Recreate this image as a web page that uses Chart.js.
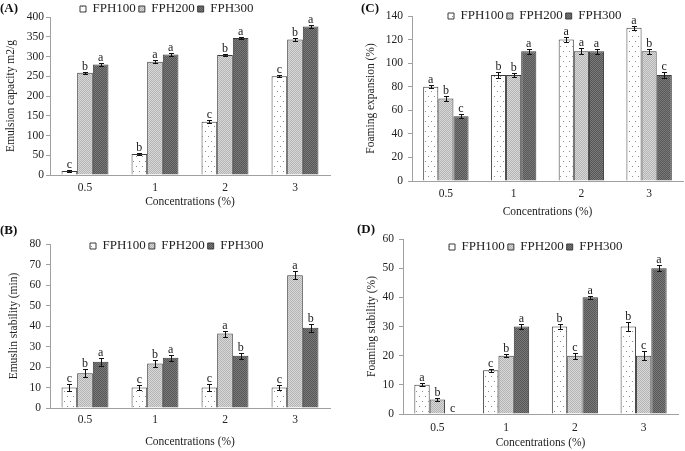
<!DOCTYPE html>
<html>
<head>
<meta charset="utf-8">
<script src="https://cdn.jsdelivr.net/npm/chart.js@4.4.1/dist/chart.umd.min.js"></script>
<style>
  body { margin: 0; background: #fff; width: 685px; height: 451px; position: relative; overflow: hidden; }
  canvas { position: absolute; }
  .tag { position: absolute; font: bold 13px "Liberation Serif", serif; line-height: 15px; color: #111; }
</style>
</head>
<body>
<canvas id="chartA" width="340" height="225" style="left:0;top:0"></canvas>
<canvas id="chartC" width="345" height="225" style="left:340px;top:0"></canvas>
<canvas id="chartB" width="340" height="226" style="left:0;top:225px"></canvas>
<canvas id="chartD" width="345" height="226" style="left:340px;top:225px"></canvas>
<div class="tag" style="left:0;top:0">(A)</div>
<div class="tag" style="left:361px;top:0">(C)</div>
<div class="tag" style="left:0;top:222px">(B)</div>
<div class="tag" style="left:357px;top:221px">(D)</div>
<script>
/*** data ***/
var concentrations = ['0.5', '1', '2', '3'];
var hydrolysates = ['FPH100', 'FPH200', 'FPH300'];

// (A) emulsion capacity, rows = FPH100 / FPH200 / FPH300
var capacityMean    = [[10, 53, 135, 250], [259, 287, 304, 343], [280, 305, 347, 376]];
var capacityErr     = [[3, 3, 3, 3], [3, 3, 3, 3], [3, 3, 3, 3]];
var capacityLetters = [['c', 'b', 'c', 'c'], ['b', 'a', 'b', 'b'], ['a', 'a', 'a', 'a']];
var capacityAxis    = [0, 400, 50];

// (B) emulsion stability
var stabilityMean    = [[10, 10, 10, 10], [17, 21.7, 36.3, 64.8], [22.6, 24.5, 25.5, 39.2]];
var stabilityErr     = [[1.5, 1, 1.5, 1], [2, 1.5, 1.5, 2], [2, 1.5, 1.5, 2]];
var stabilityLetters = [['c', 'c', 'c', 'c'], ['b', 'b', 'a', 'a'], ['a', 'a', 'b', 'b']];
var stabilityAxis    = [0, 80, 10];

// (C) foaming expansion
var expansionMean    = [[80, 90, 120, 130], [70, 90, 110, 110], [55, 110, 110, 90]];
var expansionErr     = [[1.5, 2.5, 2, 1.5], [2, 1.5, 2.5, 2], [1.5, 2, 2, 2.5]];
var expansionLetters = [['a', 'b', 'a', 'a'], ['b', 'b', 'a', 'b'], ['c', 'a', 'a', 'c']];
var expansionAxis    = [0, 140, 20];

// (D) foaming stability
var foamMean    = [[10, 15, 30, 30], [5, 20, 20, 20], [0, 30, 40, 50]];
var foamErr     = [[0.5, 0.5, 1, 1.5], [0.5, 0.5, 1, 1.5], [0, 1, 0.5, 1]];
var foamLetters = [['a', 'c', 'b', 'b'], ['b', 'b', 'c', 'c'], ['c', 'a', 'a', 'a']];
var foamAxis    = [0, 60, 10];

var serif = '"Liberation Serif", "Times New Roman", serif';

/*** fills ***/
function makeFill(kind) {
    var c = document.createElement('canvas');
    var g = c.getContext('2d');
    if (kind == 'dots') {
        c.width = 6; c.height = 10;
        g.fillStyle = '#ffffff'; g.fillRect(0, 0, 6, 10);
        g.fillStyle = '#8c8c8c';
        g.fillRect(1, 1, 1, 1); g.fillRect(4, 6, 1, 1);
    } else {
        var cols = kind == 'light' ? ['#b4b4b4', '#d8d8d8'] : ['#575757', '#7a7a7a'];
        c.width = 2; c.height = 2;
        g.fillStyle = cols[0]; g.fillRect(0, 0, 2, 2);
        g.fillStyle = cols[1]; g.fillRect(0, 0, 1, 1); g.fillRect(1, 1, 1, 1);
    }
    return g.createPattern(c, 'repeat');
}
var fills = [makeFill('dots'), makeFill('light'), makeFill('dark')];

/*** plugins ***/
var errorBarPlugin = {
    id: 'errorBars',
    afterDatasetsDraw: function (chart) {
        var ctx = chart.ctx;
        var yScale = chart.scales.y;
        ctx.save();
        ctx.strokeStyle = '#111';
        ctx.lineWidth = 1;
        ctx.fillStyle = '#222';
        ctx.font = '12px ' + serif;
        ctx.textAlign = 'center';
        ctx.textBaseline = 'alphabetic';
        chart.data.datasets.forEach(function (ds, di) {
            var meta = chart.getDatasetMeta(di);
            meta.data.forEach(function (bar, i) {
                var v = ds.data[i], e = ds.errors[i];
                var x = Math.round(bar.x) + 0.5;
                var yTop = Math.round(yScale.getPixelForValue(v + e)) + 0.5;
                var yBot = Math.round(yScale.getPixelForValue(v - e)) + 0.5;
                if (e > 0) {
                    ctx.beginPath();
                    ctx.moveTo(x, yTop); ctx.lineTo(x, yBot);
                    ctx.moveTo(x - 2.5, yTop); ctx.lineTo(x + 2.5, yTop);
                    ctx.moveTo(x - 2.5, yBot); ctx.lineTo(x + 2.5, yBot);
                    ctx.stroke();
                }
                ctx.fillText(ds.letters[i], bar.x, yTop - 3);
            });
        });
        ctx.restore();
    }
};

// moves the legend so its first box sits at (x, y); the legend only takes 1px of layout
var legendShiftPlugin = {
    id: 'legendShift',
    beforeDraw: function (chart, args, opts) {
        var lg = chart.legend;
        if (!lg || !lg.legendHitBoxes || !lg.legendHitBoxes.length) return;
        var hb = lg.legendHitBoxes[0];
        var dx = opts.x - hb.left;
        var dy = opts.y - (hb.top + hb.height / 2);
        lg.left += dx; lg.right += dx;
        lg.top += dy;
        lg.bottom = lg.top + 40;
        lg.height = 40;
        lg.legendHitBoxes.forEach(function (b) { b.left += dx; b.top += dy; });
    }
};

/*** charts ***/
function buildChart(id, mean, err, letters, axis, yTitle, box) {
    var canvas = document.getElementById(id);
    var W = canvas.width, H = canvas.height;
    var datasets = hydrolysates.map(function (name, k) {
        return {
            label: name,
            data: mean[k],
            errors: err[k],
            letters: letters[k],
            backgroundColor: fills[k],
            borderColor: '#3a3a3a',
            borderWidth: 1,
            categoryPercentage: 0.67,
            barPercentage: 1
        };
    });
    return new Chart(canvas, {
        type: 'bar',
        data: { labels: concentrations, datasets: datasets },
        options: {
            responsive: false,
            animation: false,
            layout: { padding: { left: 0, top: box.top - 1, right: W - box.right, bottom: 0 } },
            plugins: {
                legend: {
                    position: 'top',
                    maxHeight: 1,
                    labels: {
                        boxWidth: 6, boxHeight: 6, padding: 3,
                        color: '#222', font: { family: serif, size: 13 }
                    }
                },
                tooltip: { enabled: false },
                legendShift: { x: box.legendX, y: box.legendY }
            },
            scales: {
                x: {
                    grid: { display: false, drawTicks: false },
                    border: { color: '#a0a0a0' },
                    ticks: { color: '#222', font: { family: serif, size: 11.5 }, padding: box.xPad },
                    title: {
                        display: true, text: 'Concentrations (%)', color: '#222',
                        font: { family: serif, size: 11.5 }, padding: { top: 0, bottom: box.xTitleBottom }
                    },
                    afterFit: function (s) { s.height = H - box.bottom; }
                },
                y: {
                    min: axis[0], max: axis[1],
                    ticks: { stepSize: axis[2], color: '#222', font: { family: serif, size: 11.5 }, padding: box.tickGap },
                    grid: { drawOnChartArea: false, tickLength: 4, color: '#a0a0a0' },
                    border: { color: '#a0a0a0' },
                    title: {
                        display: true, text: yTitle, color: '#222',
                        font: { family: serif, size: 11.5 }, padding: { top: box.yTitlePad, bottom: 0 }
                    },
                    afterFit: function (s) { s.width = box.left; }
                }
            }
        },
        plugins: [errorBarPlugin, legendShiftPlugin]
    });
}

buildChart('chartA', capacityMean, capacityErr, capacityLetters, capacityAxis, 'Emulsion capacity m2/g',
    { left: 50, right: 330, top: 17, bottom: 175, legendX: 80, legendY: 9, tickGap: 2, xPad: 6, yTitlePad: 4, xTitleBottom: 16 });
buildChart('chartB', stabilityMean, stabilityErr, stabilityLetters, stabilityAxis, 'Emuslin stability (min)',
    { left: 50, right: 330, top: 19, bottom: 183, legendX: 90, legendY: 21, tickGap: 5, xPad: 5, yTitlePad: 7, xTitleBottom: 2 });
buildChart('chartC', expansionMean, expansionErr, expansionLetters, expansionAxis, 'Foaming expansion (%)',
    { left: 72, right: 343, top: 16, bottom: 181, legendX: 108, legendY: 16, tickGap: 5, xPad: 6, yTitlePad: 24, xTitleBottom: 6 });
buildChart('chartD', foamMean, foamErr, foamLetters, foamAxis, 'Foaming stability (%)',
    { left: 63, right: 338, top: 14, bottom: 189, legendX: 109, legendY: 22, tickGap: 5, xPad: 7, yTitlePad: 25, xTitleBottom: 1 });
</script>
</body>
</html>
